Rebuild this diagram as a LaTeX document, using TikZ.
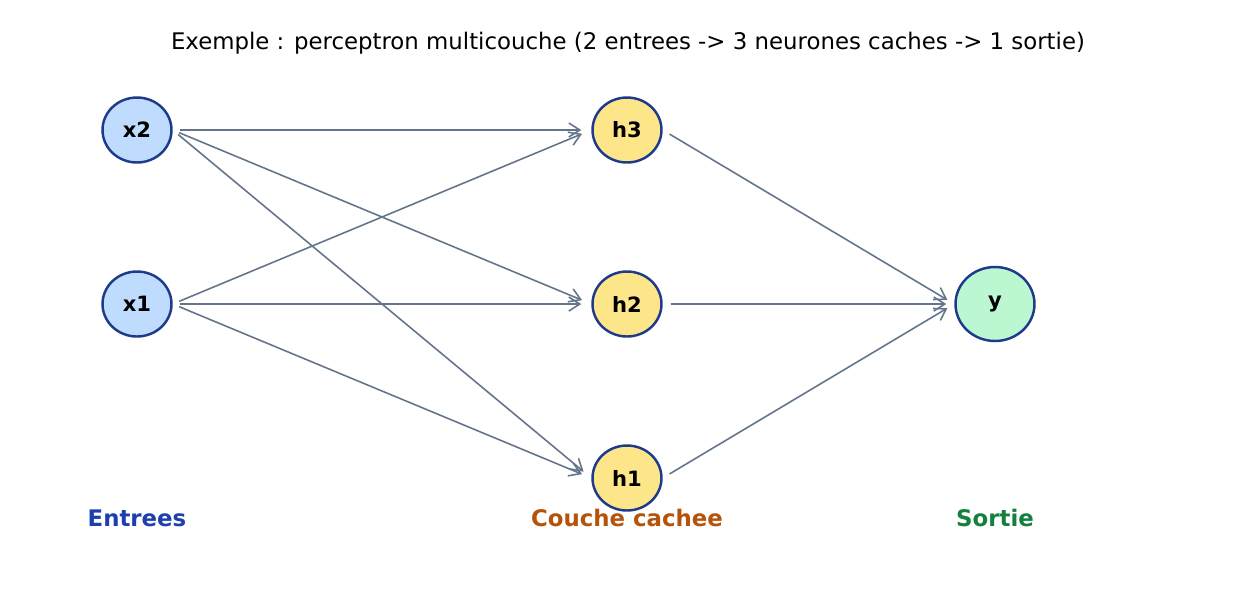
\documentclass[tikz,border=0pt]{standalone}
\usepackage{fontspec}
\setmainfont{DejaVu Sans}
\usepackage{tikz}
\usetikzlibrary{shapes.geometric,arrows.meta,positioning}
\definecolor{edgeblue}{HTML}{1E3A8A}
\definecolor{inblue}{HTML}{BFDBFE}
\definecolor{hidyellow}{HTML}{FDE68A}
\definecolor{outgreen}{HTML}{BBF7D0}
\definecolor{linkgray}{HTML}{64748B}
\definecolor{lblblue}{HTML}{1E40AF}
\definecolor{lblorange}{HTML}{B45309}
\definecolor{lblgreen}{HTML}{15803D}

\begin{document}
\begin{tikzpicture}[x=0.02cm,y=-0.02cm,
  neuron/.style={ellipse,draw=edgeblue,line width=1.4pt,minimum width=1.38cm,minimum height=1.3cm,inner sep=0pt,font=\fontsize{12}{14}\selectfont\bfseries},
  outneuron/.style={neuron,minimum width=1.58cm,minimum height=1.48cm},
  link/.style={draw=linkgray,line width=0.9pt,-{Straight Barb[length=0.22cm,width=0.28cm,line width=0.9pt]},shorten <=0.14cm,shorten >=0.2cm},
  layerlbl/.style={font=\fontsize{13}{15}\selectfont\bfseries}]
\useasboundingbox (0,0) rectangle (1255,610);
\node[font=\fontsize{13}{15}\selectfont] (title) at (628,43){Exemple : perceptron multicouche (2 entrees -> 3 neurones caches -> 1 sortie)};
\node[neuron,fill=inblue] (x2) at (137,130){x2};
\node[neuron,fill=inblue] (x1) at (137,304){x1};
\node[neuron,fill=hidyellow] (h3) at (627,130){h3};
\node[neuron,fill=hidyellow] (h2) at (627,304){h2};
\node[neuron,fill=hidyellow] (h1) at (627,478){h1};
\node[outneuron,fill=outgreen] (y) at (995,304){\raisebox{-0.1em}{y}};
\foreach \i in {1,2}{
  \foreach \j in {1,2,3}{
    \draw[link] (x\i.east) -- (h\j.west);
  }
}
\foreach \j in {1,2,3}{
  \draw[link,shorten <=0.16cm,shorten >=0.16cm] (h\j.east) -- (y.west);
}
\node[layerlbl,text=lblblue] (lblin) at (137,518){Entrees};
\node[layerlbl,text=lblorange] (lblhid) at (627,518){Couche cachee};
\node[layerlbl,text=lblgreen] (lblout) at (995,518){Sortie};
\end{tikzpicture}
\end{document}
